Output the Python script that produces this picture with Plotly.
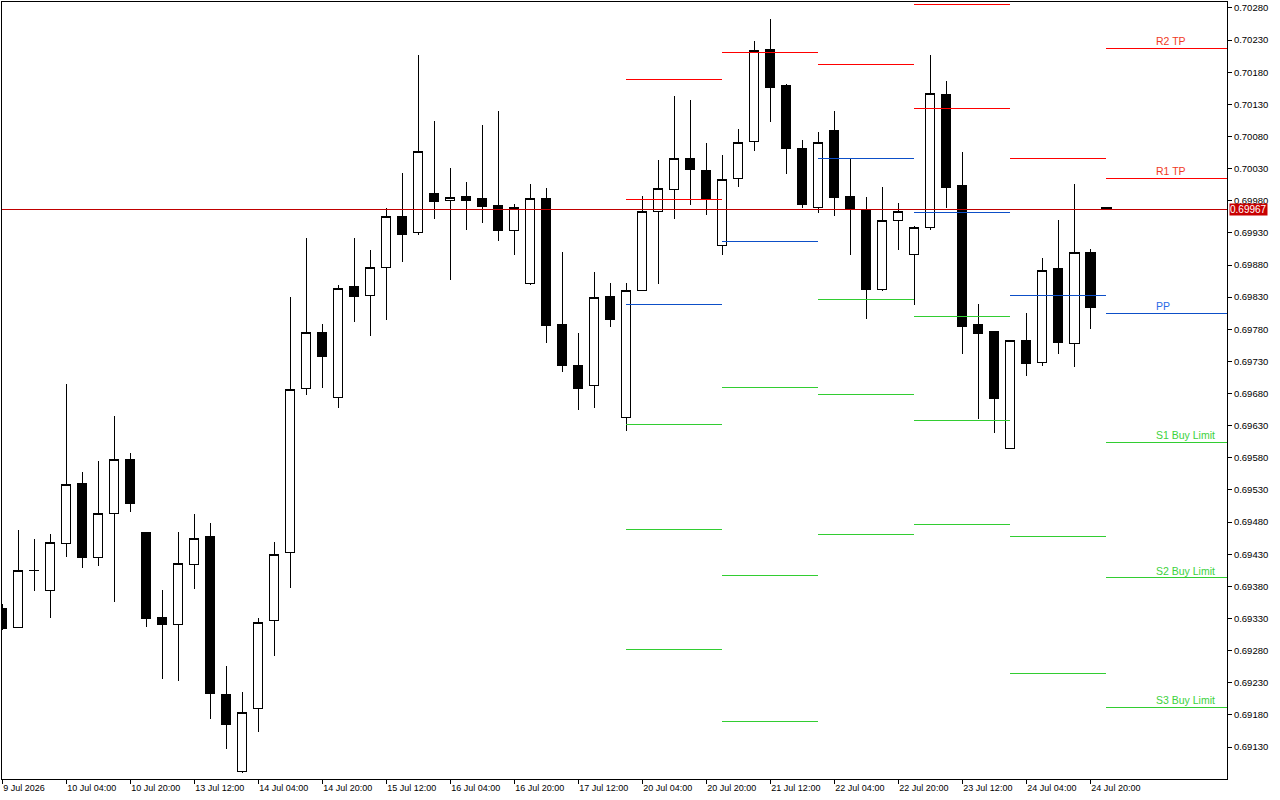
import pandas as pd
import plotly.graph_objects as go

# ---------------- data (H4 candles) ----------------
opens = [
    0.69345, 0.69316, 0.69405, 0.69374, 0.69447, 0.69540, 0.69425, 0.69494, 0.69578, 0.69464,
    0.69332, 0.69320, 0.69414, 0.69458, 0.69212, 0.69092, 0.69190, 0.69327, 0.69433, 0.69688,
    0.69775, 0.69674, 0.69847, 0.69832, 0.69876, 0.69956, 0.69931, 0.69992, 0.69981, 0.69987,
    0.69983, 0.69973, 0.69934, 0.69852, 0.69984, 0.69788, 0.69723, 0.69693, 0.69831, 0.69642,
    0.69841, 0.69964, 0.69998, 0.70045, 0.70027, 0.69911, 0.70015, 0.70073, 0.70216, 0.70160,
    0.70062, 0.69970, 0.70089, 0.69987, 0.69967, 0.69842, 0.69950, 0.69897, 0.69939, 0.70146,
    0.70003, 0.69788, 0.69777, 0.69595, 0.69763, 0.69728, 0.69874, 0.69758, 0.69900, 0.69970,
]
highs = [
    0.69353, 0.69468, 0.69454, 0.69461, 0.69695, 0.69558, 0.69575, 0.69645, 0.69588, 0.69465,
    0.69374, 0.69464, 0.69493, 0.69479, 0.69256, 0.69216, 0.69331, 0.69449, 0.69830, 0.69922,
    0.69788, 0.69849, 0.69922, 0.69903, 0.69968, 0.70023, 0.70207, 0.70104, 0.70031, 0.70009,
    0.70098, 0.70120, 0.69975, 0.70006, 0.70000, 0.69900, 0.69774, 0.69869, 0.69852, 0.69852,
    0.69987, 0.70043, 0.70143, 0.70137, 0.70070, 0.70051, 0.70092, 0.70229, 0.70263, 0.70162,
    0.70075, 0.70087, 0.70120, 0.70045, 0.69986, 0.70001, 0.69977, 0.69941, 0.70207, 0.70166,
    0.70056, 0.69819, 0.69777, 0.69763, 0.69805, 0.69891, 0.69950, 0.70006, 0.69905, 0.69970,
]
lows = [
    0.69312, 0.69315, 0.69372, 0.69331, 0.69425, 0.69409, 0.69412, 0.69355, 0.69496, 0.69316,
    0.69236, 0.69233, 0.69376, 0.69174, 0.69127, 0.69089, 0.69154, 0.69272, 0.69377, 0.69678,
    0.69688, 0.69658, 0.69792, 0.69770, 0.69795, 0.69885, 0.69927, 0.69952, 0.69857, 0.69935,
    0.69946, 0.69918, 0.69896, 0.69849, 0.69759, 0.69714, 0.69655, 0.69658, 0.69784, 0.69622,
    0.69840, 0.69851, 0.69952, 0.69974, 0.69958, 0.69896, 0.70002, 0.70058, 0.70103, 0.70021,
    0.69969, 0.69961, 0.69957, 0.69895, 0.69796, 0.69840, 0.69904, 0.69818, 0.69935, 0.69969,
    0.69742, 0.69641, 0.69618, 0.69594, 0.69708, 0.69723, 0.69742, 0.69722, 0.69781, 0.69966,
]
closes = [
    0.69315, 0.69405, 0.69404, 0.69449, 0.69539, 0.69425, 0.69494, 0.69578, 0.69509, 0.69330,
    0.69320, 0.69416, 0.69455, 0.69213, 0.69165, 0.69184, 0.69324, 0.69430, 0.69687, 0.69775,
    0.69737, 0.69844, 0.69831, 0.69876, 0.69956, 0.69927, 0.70057, 0.69979, 0.69985, 0.69980,
    0.69971, 0.69933, 0.69970, 0.69984, 0.69786, 0.69723, 0.69688, 0.69830, 0.69795, 0.69841,
    0.69964, 0.69999, 0.70045, 0.70028, 0.69983, 0.70013, 0.70071, 0.70214, 0.70156, 0.70061,
    0.69974, 0.70071, 0.69985, 0.69967, 0.69842, 0.69950, 0.69964, 0.69939, 0.70147, 0.70000,
    0.69784, 0.69773, 0.69672, 0.69763, 0.69726, 0.69872, 0.69759, 0.69900, 0.69814, 0.69967,
]
first_bar_time = "2026-07-09 12:00"
current_price = 0.69967

# daily pivot levels (None = outside the visible range)
pivot_days = ["2026-07-20", "2026-07-21", "2026-07-22", "2026-07-23", "2026-07-24", "2026-07-27"]
R2 = [0.70169, None, None, 0.70285, None, 0.70217]
R1 = [0.69982, 0.70210, 0.70192, 0.70124, 0.70046, 0.70015]
PP = [0.69819, 0.69917, 0.70045, 0.69961, 0.69833, 0.69805]
S1 = [0.69632, 0.69690, 0.69827, 0.69800, 0.69458, 0.69604]
S2 = [0.69469, 0.69397, 0.69679, 0.69638, 0.69245, 0.69393]
S3 = [0.69282, 0.69170, 0.69461, 0.69477, None, 0.69192]
level_labels = {"R2": "R2 TP", "R1": "R1 TP", "PP": "PP",
                "S1": "S1 Buy Limit", "S2": "S2 Buy Limit", "S3": "S3 Buy Limit"}

y_ticks = [0.69130, 0.69180, 0.69230, 0.69280, 0.69330, 0.69380, 0.69430, 0.69480,
           0.69530, 0.69580, 0.69630, 0.69680, 0.69730, 0.69780, 0.69830, 0.69880,
           0.69930, 0.69980, 0.70030, 0.70080, 0.70130, 0.70180, 0.70230, 0.70280]

# ---------------- time axis (H4 bars, weekends skipped) ----------------
times = []
t = pd.Timestamp(first_bar_time)
while len(times) < len(opens):
    if t.weekday() < 5:
        times.append(t)
    t += pd.Timedelta(hours=4)
idx = list(range(len(times)))

tick_idx = idx[::4]
tick_txt = []
for k in tick_idx:
    d = times[k]
    if k == 0:
        tick_txt.append(f"{d.day} {d:%b %Y}")
    else:
        tick_txt.append(f"{d.day} {d:%b %H:%M}")

FONT = "Liberation Sans"
RED, BLUE, GREEN = "#FF0000", "#0D4FC8", "#32CD32"
level_colors = {"R2": RED, "R1": RED, "PP": BLUE, "S1": GREEN, "S2": GREEN, "S3": GREEN}
label_colors = {"R2": "#F03A1E", "R1": "#F03A1E", "PP": "#2A6AE6",
                "S1": "#3CD23C", "S2": "#3CD23C", "S3": "#3CD23C"}

fig = go.Figure()
fig.add_trace(go.Candlestick(
    x=idx, open=opens, high=highs, low=lows, close=closes,
    increasing=dict(line=dict(color="black", width=1), fillcolor="white"),
    decreasing=dict(line=dict(color="black", width=1), fillcolor="black"),
    whiskerwidth=0, hoverinfo="skip", showlegend=False,
))

# pivot segments
levels = {"R2": R2, "R1": R1, "PP": PP, "S1": S1, "S2": S2, "S3": S3}
starts = [times.index(pd.Timestamp(d)) for d in pivot_days]
for name, vals in levels.items():
    xs, ys = [], []
    for j, v in enumerate(vals):
        if v is None:
            continue
        s = starts[j]
        e = starts[j + 1] if j + 1 < len(starts) else s + 12
        xs += [s, e, None]
        ys += [v, v, None]
    fig.add_trace(go.Scatter(x=xs, y=ys, mode="lines",
                             line=dict(color=level_colors[name], width=1),
                             hoverinfo="skip", showlegend=False))

annotations = []
last = starts[-1]
for name, vals in levels.items():
    v = vals[-1]
    if v is None:
        continue
    annotations.append(dict(x=last + 3, y=v, xref="x", yref="y", text=level_labels[name],
                            showarrow=False, xanchor="left", yanchor="bottom", yshift=-1,
                            font=dict(family=FONT, size=10.5, color=label_colors[name])))

# current price tag
annotations.append(dict(x=1, y=current_price, xref="paper", yref="y", text=f"{current_price:.5f}",
                        showarrow=False, xanchor="left", yanchor="middle", xshift=2,
                        bgcolor="#C80000", borderpad=0,
                        font=dict(family=FONT, size=10, color="white")))

fig.add_shape(type="line", xref="paper", yref="y", x0=0, x1=1, y0=current_price, y1=current_price,
              line=dict(color="#C00000", width=1))

fig.update_layout(
    width=1280, height=800,
    margin=dict(l=2, r=53, t=2, b=21),
    paper_bgcolor="white", plot_bgcolor="white",
    boxgap=0.42, boxgroupgap=0,
    showlegend=False,
    annotations=annotations,
    font=dict(family=FONT, size=9, color="black"),
    xaxis=dict(range=[-0.02, 76.54], tickmode="array", tickvals=tick_idx, ticktext=tick_txt,
               ticks="outside", ticklen=4, tickcolor="black", ticklabelposition="outside right",
               showgrid=False, zeroline=False, showline=True, linecolor="black", linewidth=1,
               mirror=True, rangeslider=dict(visible=False), fixedrange=True,
               tickfont=dict(family=FONT, size=9, color="black")),
    yaxis=dict(range=[0.690802, 0.702893], side="right", tickmode="array", tickvals=y_ticks,
               ticktext=[f"{v:.5f}" for v in y_ticks],
               ticks="outside", ticklen=4, tickcolor="black",
               showgrid=False, zeroline=False, showline=True, linecolor="black", linewidth=1,
               mirror=True, fixedrange=True,
               tickfont=dict(family=FONT, size=9.5, color="black")),
)

crisp_js = (
    "document.body.style.margin='0';document.body.style.overflow='hidden';"
    "document.querySelectorAll('.scatterlayer path, .shapelayer path, .boxlayer path, .xtick path, .ytick path')"
    ".forEach(function(p){p.style.shapeRendering='crispEdges';});"
)
fig.write_html("out.html", config={"displayModeBar": False}, post_script=crisp_js)
